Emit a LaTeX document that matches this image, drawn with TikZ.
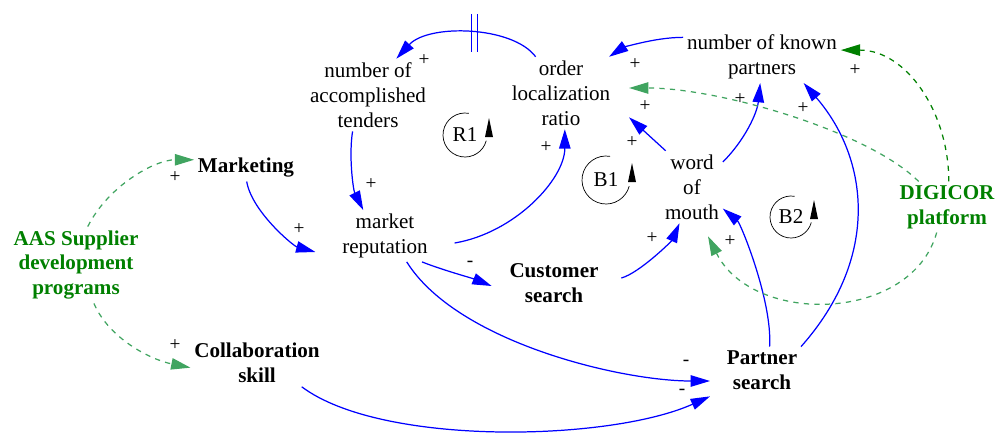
\documentclass[tikz,border=0pt]{standalone}
\usepackage{fontspec}
\setmainfont{Liberation Serif}
\usetikzlibrary{arrows.meta, calc}
\definecolor{linkblue}{RGB}{0, 0, 255}
\definecolor{softgreen}{RGB}{64, 164, 96}
\definecolor{deepgreen}{RGB}{0, 128, 0}

\begin{document}
\begin{tikzpicture}[x=0.02cm, y=-0.02cm,
  var/.style={align=center, inner sep=2pt, font=\fontsize{12}{14.2}\selectfont},
  keyvar/.style={var, font=\fontsize{12}{14.2}\selectfont\bfseries},
  extvar/.style={keyvar, text=deepgreen},
  sign/.style={inner sep=0pt, font=\fontsize{11}{13}\selectfont},
  link/.style={linkblue, line width=0.7pt, -{Triangle[length=11pt, width=6.5pt]}},
  extlink/.style={softgreen, line width=0.7pt, dash pattern=on 3pt off 3pt, -{Triangle[length=11pt, width=6.5pt]}}]
  \useasboundingbox (0,0) rectangle (999,439);
  % Variables
  \node[var] (tenders) at (368,95) {number of\\accomplished\\tenders};
  \node[var] (order) at (561,93) {order\\localization\\ratio};
  \node[var] (partners) at (762,57) {number of known\\partners};
  \node[var] (mouth) at (692,187) {word\\of\\mouth};
  \node[var] (market) at (385,236) {market\\reputation};
  \node[keyvar] (marketing) at (246,168) {Marketing};
  \node[keyvar] (customer) at (554,283) {Customer\\search};
  \node[keyvar] (partner) at (762,370) {Partner\\search};
  \node[keyvar] (collab) at (257,363) {Collaboration\\skill};
  % External drivers
  \node[extvar] (aas) at (76,265) {AAS Supplier\\development\\programs};
  \node[extvar] (digicor) at (947,207) {DIGICOR\\platform};
  % Loop markers
  \foreach \nm/\px/\py/\rr in {R1/465/135/22, B1/606/180/24, B2/791/217/21} {
    \node[var] (loop\nm) at (\px,\py) {\nm};
    \draw[thin] (loop\nm.center) ++(-80:\rr) arc[start angle=-80, end angle=-345, radius=\rr];
    \fill (loop\nm.center) ++({\rr+2},2) -- ++(4,0) -- ++(-4,-19) -- ++(-4,19) -- cycle;
  }
  % Loop R1 - reputation and tenders
  \draw[link] (order.125) .. controls +(-23,-31) and +(32,-35) .. (tenders.52) coordinate[pos=0.47] (delay);
  \foreach \dx in {-3,3}
    \draw[linkblue, line width=0.7pt] ([shift={(\dx,-19)}]delay) -- ([shift={(\dx,19)}]delay);
  \draw[link] (tenders.247) .. controls +(-4,25) and +(-10,-20) .. (market.130);
  \draw[link] ([shift={(23,7)}]market.east) .. controls +(60,-10) and +(0,50) .. (order.-84);
  % Searching
  \draw[link] (marketing.-87) .. controls +(5,30) and +(-22,-6) .. ([shift={(-23,16)}]market.west);
  \draw[link] (market.-35) .. controls +(20,8) and +(-20,-8) .. ([shift={(-14,3)}]customer.west);
  \draw[link] (market.-50) .. controls +(50,80) and +(-90,0) .. ([shift={(-13,11)}]partner.west);
  \draw[link] (collab.-28) .. controls +(80,60) and +(-100,45) .. ([shift={(-13,3)}]partner.south west);
  % Loops B1 and B2 - word of mouth
  \draw[link] ([shift={(19,-5)}]customer.east) .. controls +(18,-5) and +(-8,18) .. (mouth.-109);
  \draw[link] (partner.72) .. controls +(3,-45) and +(18,15) .. (mouth.-35);
  \draw[link] (partner.north east) .. controls +(80,-90) and +(65,75) .. (partners.-32);
  \draw[link] (mouth.39) .. controls +(22,-22) and +(-3,30) .. (partners.-94);
  \draw[link] (mouth.126) -- ([shift={(15,5)}]order.-20);
  \draw[link] (partners.166) .. controls +(-30,0) and +(12,-8) .. (order.37);
  % External influences
  \draw[extlink] (aas.73) .. controls +(20,-40) and +(-40,0) .. (marketing.171);
  \draw[extlink] (aas.-65) .. controls +(15,35) and +(-40,-8) .. (collab.184);
  \draw[extlink, deepgreen] (digicor.86) .. controls +(0,-70) and +(65,0) .. (partners.5);
  \draw[extlink] (digicor.138) .. controls +(-50,-50) and +(90,0) .. ([shift={(15,-5)}]order.east);
  \draw[extlink] (digicor.-112) .. controls +(-25,90) and +(45,90) .. ([shift={(16,13)}]mouth.south);
  % Polarities
  \foreach \sx/\sy/\sg [count=\i] in {424/60/+, 371/184/+, 546/147/+, 299/229/+, 470/264/-,
      686/363/-, 682/392/-, 652/238/+, 730/241/+, 740/99/+, 803/108/+, 855/70/+,
      635/64/+, 645/106/+, 632/142/+, 175/177/+, 175/345/+}
    \node[sign] (sign\i) at (\sx,\sy) {\sg};
\end{tikzpicture}
\end{document}
